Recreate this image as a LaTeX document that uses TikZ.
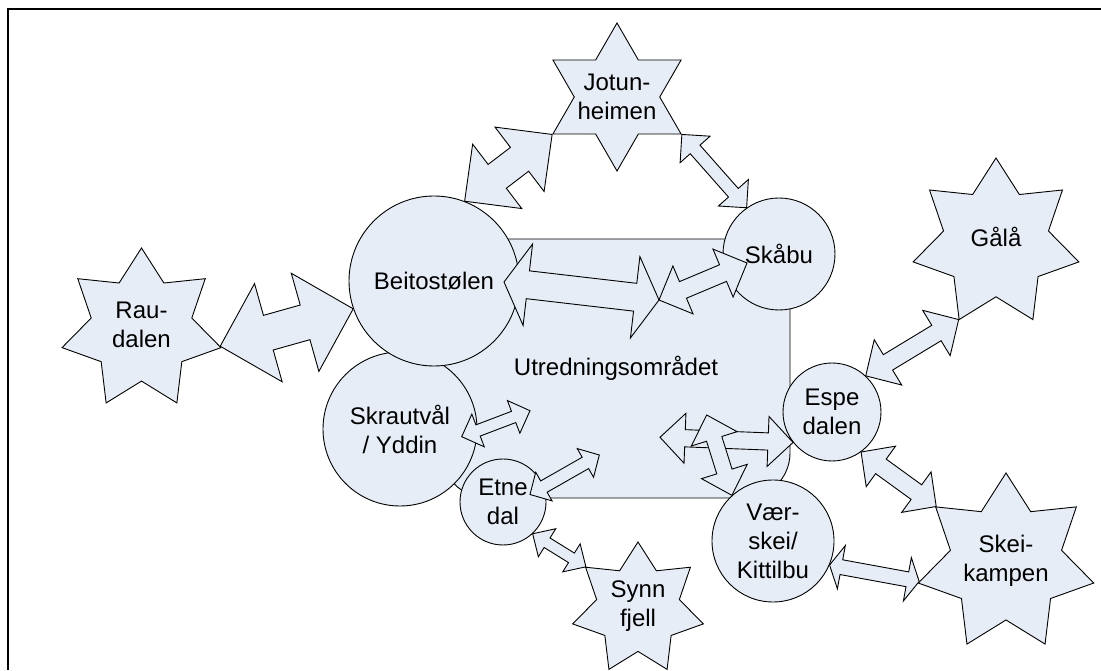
\documentclass[tikz,border=0pt]{standalone}
\usepackage{fontspec}
\setmainfont{Liberation Sans}
\usetikzlibrary{shapes.geometric,calc}

\tikzset{
  place/.style={draw=drawColor, fill=fillColor, line width=0.9pt, inner sep=0pt, align=center, font=\fontsize{24}{29}\selectfont},
  circ/.style={place, circle},
  starnode/.style={place, star, star points=7, star point ratio=1.58},
  lbl/.style={align=center, inner sep=0pt, font=\fontsize{24}{29}\selectfont},
  dblarr/.style={draw=drawColor, fill=fillColor, line width=0.9pt, line join=miter}
}

\newcommand{\dblarrow}[5]{%
  \path (#1) coordinate (da-s) (#2) coordinate (da-e);
  \path ($(da-s)!#3!(da-e)$) coordinate (da-hs) ($(da-e)!#3!(da-s)$) coordinate (da-he);
  \path[dblarr] (da-s) -- ($(da-hs)!#4!90:(da-e)$) -- ($(da-hs)!#5!90:(da-e)$) --
    ($(da-he)!#5!-90:(da-s)$) -- ($(da-he)!#4!-90:(da-s)$) -- (da-e) --
    ($(da-he)!#4!90:(da-s)$) -- ($(da-he)!#5!90:(da-s)$) --
    ($(da-hs)!#5!-90:(da-e)$) -- ($(da-hs)!#4!-90:(da-e)$) -- cycle;
}

\begin{document}
\begin{tikzpicture}[x=1pt,y=1pt]
\definecolor{fillColor}{RGB}{255,255,255}
\path[use as bounding box,fill=fillColor] (0,0) rectangle (1101,670);
\definecolor{drawColor}{RGB}{0,0,0}
\definecolor{fillColor}{RGB}{231,237,247}

\path[draw=drawColor,line width=2.5pt] (8,0) -- (8,661) -- (1101,661);

\node[place, rectangle, rounded corners=45pt, minimum width=348pt, minimum height=259pt] (utred) at (616,301.5) {Utredningsområdet};

\node[circ, minimum size=154pt] (skraut) at (400,241) {Skrautvål\\/ Yddin};

\node[circ, minimum size=170pt] (beito) at (434,389) {Beitostølen};

\node[circ, minimum size=86pt] (etne) at (503,168) {Etne\\dal};

\node[circ, minimum size=112pt] (skaabu) at (779,416) {Skåbu};

\node[circ, minimum size=98pt] (espe) at (832,258) {Espe\\dalen};

\node[circ, minimum size=122pt] (vaer) at (773,129) {Vær-\\skei/\\Kittilbu};

\node[starnode, star points=6, star point ratio=1.732, minimum size=148pt, label={[lbl]center:Jotun-\\heimen}] (jotun) at (617,573) {};

\node[starnode, minimum size=163pt, label={[lbl, yshift=5pt]center:Rau-\\dalen}] (rau) at (141.5,340.5) {};

\node[starnode, minimum size=170pt, label={[lbl, yshift=6pt]center:Gålå}] (gala) at (996,427) {};

\node[starnode, minimum size=180pt, label={[lbl, yshift=2pt]center:Skei-\\kampen}] (skei) at (1006,107) {};

\node[starnode, minimum size=134pt, label={[lbl, yshift=3pt]center:Synn\\fjell}] (synn) at (638,61) {};

\coordinate (beitomid) at (659,370);
\coordinate (espemid) at (660,232.7);
\coordinate (vaermid) at (706.7,255);
\coordinate (skrautmid) at (530,259.3);
\coordinate (etnemid) at (599.3,215);

\dblarrow{rau.-12.86}{beito.199}{50pt}{51pt}{18pt}

\dblarrow{jotun.210}{beito.69}{41pt}{40.5pt}{15pt}

\dblarrow{jotun.330}{skaabu.125}{20pt}{20pt}{6.5pt}

\dblarrow{$(beito.center)+(70,-1)$}{beitomid}{24pt}{41pt}{14pt}

\dblarrow{beitomid}{$(skaabu.center)+(-32,-9)$}{26pt}{26pt}{9pt}

\dblarrow{espe.218}{espemid}{25pt}{25pt}{8.6pt}

\dblarrow{vaer.132}{vaermid}{25pt}{24pt}{8pt}

\dblarrow{$(skraut.center)+(61.7,-7.7)$}{skrautmid}{17.5pt}{17.5pt}{6pt}

\dblarrow{$(etne.center)+(27,7.5)$}{etnemid}{16pt}{16.5pt}{6.5pt}

\dblarrow{etne.-47}{synn.141.43}{17pt}{16.5pt}{5.6pt}

\dblarrow{espe.47}{gala.244.29}{26pt}{26.5pt}{9pt}

\dblarrow{espe.-54}{skei.141.43}{24.5pt}{25pt}{9pt}

\dblarrow{vaer.-23.5}{skei.192.86}{12pt}{22pt}{7.5pt}
\end{tikzpicture}
\end{document}
